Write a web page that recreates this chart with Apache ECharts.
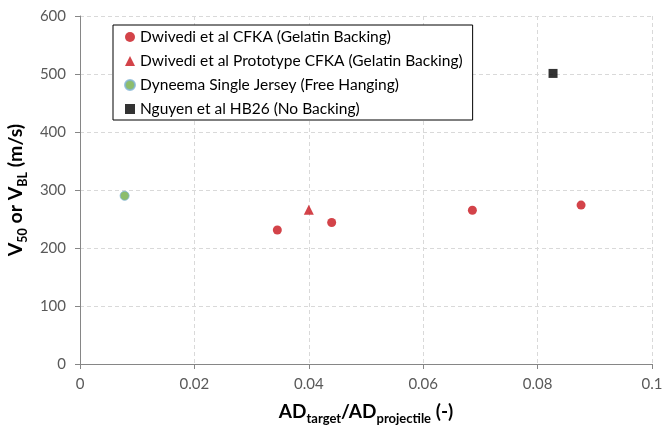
<!DOCTYPE html>
<html><head><meta charset="utf-8">
<script src="https://cdn.jsdelivr.net/npm/echarts@6/dist/echarts.min.js"></script>
<style>html,body{margin:0;padding:0;background:#fff}#c{width:664px;height:425px}</style>
</head><body><div id="c"></div>
<script>
var seriesNames = [
  'Dwivedi et al CFKA (Gelatin Backing)',
  'Dwivedi et al Prototype CFKA (Gelatin Backing)',
  'Dyneema Single Jersey (Free Hanging)',
  'Nguyen et al HB26 (No Backing)'
];
var cfkaX = [0.0345, 0.0440, 0.0686, 0.0876];
var cfkaY = [231, 244, 265, 274];
var protoX = [0.0400];
var protoY = [266];
var dyneemaX = [0.0078];
var dyneemaY = [290];
var nguyenX = [0.0827];
var nguyenY = [501];
var xTicks = [0, 0.02, 0.04, 0.06, 0.08, 0.1];
var yTicks = [0, 100, 200, 300, 400, 500, 600];

function pairs(xs, ys){ return xs.map(function(x,i){return [x, ys[i]];}); }

var FONT = 'Lato';
var richName = function(bs, ss){
  return {
    b: {fontFamily: FONT, fontSize: bs, fontWeight: 'bold', color: '#000', lineHeight: 26, verticalAlign: 'middle'},
    s: {fontFamily: FONT, fontSize: ss, fontWeight: 'bold', color: '#000', lineHeight: 12, verticalAlign: 'bottom'}
  };
};
var chart = echarts.init(document.getElementById('c'), null, {renderer:'canvas'});
chart.setOption({
  animation: false,
  backgroundColor: '#fff',
  textStyle: {fontFamily: FONT},
  grid: {left: 80, right: 12, top: 16, bottom: 61, containLabel: false, outerBoundsMode: 'none'},
  legend: {
    orient: 'vertical', left: 113, top: 25,
    backgroundColor: '#fff', borderColor: '#000', borderWidth: 1,
    padding: [4, 10, 3, 11],
    itemWidth: 10, itemHeight: 10, itemGap: 8,
    textStyle: {fontFamily: FONT, fontSize: 15.5, color: '#000', lineHeight: 14},
    data: [
      {name: seriesNames[0], icon: 'circle'},
      {name: seriesNames[1], icon: 'triangle'},
      {name: seriesNames[2], icon: 'circle'},
      {name: seriesNames[3], icon: 'rect'}
    ]
  },
  xAxis: {
    type: 'value', min: 0, max: 0.1, interval: 0.02,
    name: '{b|AD}{s|target}{b|/AD}{s|projectile}{b| (-)}',
    nameLocation: 'middle', nameGap: 35,
    nameTextStyle: {rich: richName(19, 13)},
    axisLine: {show: true, lineStyle: {color: '#868686', width: 1}},
    axisTick: {show: true, inside: false, length: 5, lineStyle: {color: '#868686'}},
    axisLabel: {fontSize: 15, color: '#595959', margin: 13,
      formatter: function(v){ return String(Math.round(v*1000)/1000); }},
    splitLine: {show: true, lineStyle: {color: '#d9d9d9', type: [4, 3], width: 1}}
  },
  yAxis: {
    type: 'value', min: 0, max: 600, interval: 100,
    name: '{b|V}{s|50}{b| or V}{s|BL}{b| (m/s)}',
    nameLocation: 'middle', nameGap: 40, nameRotate: 90,
    nameTextStyle: {rich: richName(19.5, 12.5)},
    axisLine: {show: true, lineStyle: {color: '#868686', width: 1}},
    axisTick: {show: true, inside: false, length: 5, lineStyle: {color: '#868686'}},
    axisLabel: {fontSize: 15, color: '#595959', margin: 14},
    splitLine: {show: true, lineStyle: {color: '#d9d9d9', type: [4, 3], width: 1}}
  },
  series: [
    {name: seriesNames[0], type: 'scatter', symbol: 'circle', symbolSize: 9,
      itemStyle: {color: '#c8141c'}, data: pairs(cfkaX, cfkaY)},
    {name: seriesNames[1], type: 'scatter', symbol: 'triangle', symbolSize: 10,
      itemStyle: {color: '#c8141c'}, data: pairs(protoX, protoY)},
    {name: seriesNames[2], type: 'scatter', symbol: 'circle', symbolSize: 9,
      itemStyle: {color: '#70ad47', borderColor: '#7fb3d5', borderWidth: 1}, data: pairs(dyneemaX, dyneemaY)},
    {name: seriesNames[3], type: 'scatter', symbol: 'rect', symbolSize: 9,
      itemStyle: {color: '#000'}, data: pairs(nguyenX, nguyenY)}
  ]
});
</script></body></html>
